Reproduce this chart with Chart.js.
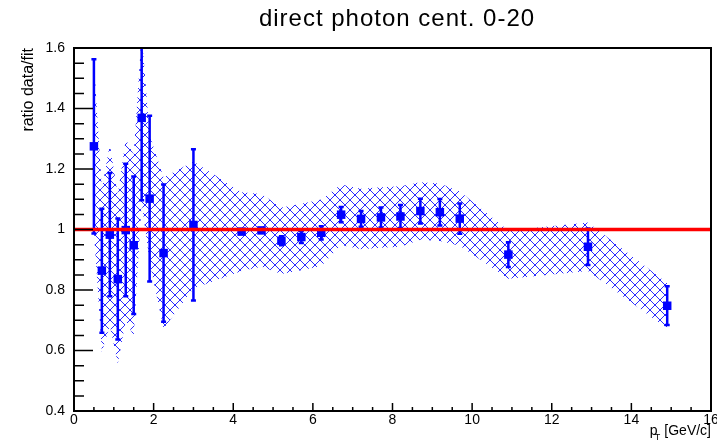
<!DOCTYPE html>
<html lang="en">
<head>
<meta charset="UTF-8">
<title>direct photon cent. 0-20</title>
<script src="https://cdn.jsdelivr.net/npm/chart.js"></script>
<style>
  html, body { margin: 0; padding: 0; background: #fff; }
  #wrap { width: 717px; height: 445px; }
</style>
</head>
<body>
<div id="wrap"><canvas id="myChart" width="717" height="445"></canvas></div>
<script>
// pT bin centres [GeV/c]
const ptX = [0.5, 0.7, 0.9, 1.1, 1.3, 1.5, 1.7, 1.9, 2.25, 3.0,
             4.21, 4.71, 5.21, 5.71, 6.21, 6.71, 7.21, 7.71, 8.2, 8.7, 9.19, 9.69,
             10.91, 12.91, 14.9];
// ratio data/fit
const ratio = [1.275, 0.864, 0.983, 0.836, 0.998, 0.948, 1.369, 1.102, 0.922, 1.015,
               0.993, 0.997, 0.963, 0.975, 0.989, 1.049, 1.035, 1.040, 1.043, 1.061, 1.057, 1.036,
               0.917, 0.943, 0.748];
// statistical errors (bars)
const statErr = [0.288, 0.205, 0.204, 0.200, 0.219, 0.227, 0.272, 0.274, 0.227, 0.250,
                 0.005, 0.005, 0.015, 0.020, 0.022, 0.025, 0.026, 0.033, 0.038, 0.041, 0.044, 0.050,
                 0.041, 0.060, 0.064];
// systematic errors (hatched band)
const sysErr = [0.28, 0.27, 0.30, 0.28, 0.30, 0.30, 0.28, 0.21, 0.25, 0.21,
                0.13, 0.12, 0.11, 0.11, 0.11, 0.10, 0.10, 0.10, 0.10, 0.095, 0.095, 0.09,
                0.08, 0.08, 0.075];

const xTicks = [0, 2, 4, 6, 8, 10, 12, 14, 16];
const yTicks = [0.4, 0.6, 0.8, 1.0, 1.2, 1.4, 1.6];
const refLevel = 1;

const FONT = '"Liberation Sans", Arial, Helvetica, sans-serif';
const BLUE = '#0000ff';

// hatch pattern like ROOT fill style (crossed diagonals)
function makeHatch() {
    const c = document.createElement('canvas');
    c.width = 10; c.height = 10;
    const g = c.getContext('2d');
    g.strokeStyle = '#2b2bff';
    g.lineWidth = 1;
    g.beginPath();
    g.moveTo(-1, -1); g.lineTo(11, 11);
    g.moveTo(11, -1); g.lineTo(-1, 11);
    g.stroke();
    return g.createPattern(c, 'repeat');
}

const points = ptX.map((x, i) => ({ x: x, y: ratio[i] }));
const bandUp = ptX.map((x, i) => ({ x: x, y: ratio[i] + sysErr[i] }));
const bandLo = ptX.map((x, i) => ({ x: x, y: ratio[i] - sysErr[i] }));
const refLine = [{ x: xTicks[0], y: refLevel }, { x: xTicks[xTicks.length - 1], y: refLevel }];

const POINTS_INDEX = 2;

// error bars drawn just before the markers
const errorBars = {
    id: 'errorBars',
    beforeDatasetDraw(chart, args) {
        if (args.index !== POINTS_INDEX) return;
        const { ctx, chartArea: a, scales: { x, y } } = chart;
        ctx.save();
        ctx.beginPath();
        ctx.rect(a.left, a.top, a.right - a.left, a.bottom - a.top);
        ctx.clip();
        ctx.strokeStyle = BLUE;
        ctx.lineWidth = 2.5;
        ctx.beginPath();
        ptX.forEach((v, i) => {
            const px = x.getPixelForValue(v);
            const top = y.getPixelForValue(ratio[i] + statErr[i]);
            const bot = y.getPixelForValue(ratio[i] - statErr[i]);
            ctx.moveTo(px, top); ctx.lineTo(px, bot);
            ctx.moveTo(px - 2.5, top); ctx.lineTo(px + 2.5, top);
            ctx.moveTo(px - 2.5, bot); ctx.lineTo(px + 2.5, bot);
        });
        ctx.stroke();
        ctx.restore();
    }
};

// ROOT style frame, inward ticks and titles
const rootFrame = {
    id: 'rootFrame',
    afterDraw(chart) {
        const { ctx, chartArea: a, scales: { x, y } } = chart;
        ctx.save();
        ctx.strokeStyle = '#000';
        ctx.lineWidth = 2;
        ctx.strokeRect(a.left, a.top, a.right - a.left, a.bottom - a.top);

        ctx.lineWidth = 1.5;
        ctx.beginPath();
        // x: major every 2, 4 subdivisions
        for (let k = 0; k <= 32; k++) {
            const px = x.getPixelForValue(k * 0.5);
            const len = k % 4 === 0 ? 8 : 4;
            ctx.moveTo(px, a.bottom); ctx.lineTo(px, a.bottom - len);
        }
        // y: major every 0.2, 4 subdivisions
        for (let k = 0; k <= 24; k++) {
            const py = y.getPixelForValue(0.4 + k * 0.05);
            const len = k % 4 === 0 ? 19 : 10;
            ctx.moveTo(a.left, py); ctx.lineTo(a.left + len, py);
        }
        ctx.stroke();

        ctx.fillStyle = '#000';
        // title
        ctx.save();
        ctx.font = '24px ' + FONT;
        ctx.letterSpacing = '1px';
        ctx.textAlign = 'center';
        ctx.textBaseline = 'alphabetic';
        ctx.fillText('direct photon cent. 0-20', 397, 26);
        ctx.restore();

        // y title, aligned to top of axis
        ctx.save();
        ctx.translate(33, a.top);
        ctx.rotate(-Math.PI / 2);
        ctx.font = '16px ' + FONT;
        ctx.textAlign = 'right';
        ctx.fillText('ratio data/fit', 0, 0);
        ctx.restore();

        // x title p_T [GeV/c], aligned to right of axis
        ctx.textAlign = 'left';
        ctx.font = '14px ' + FONT;
        const rest = ' [GeV/c]';
        const wRest = ctx.measureText(rest).width;
        const wP = ctx.measureText('p').width;
        const xRest = a.right - wRest;
        ctx.fillText(rest, xRest, 435);
        const xP = xRest - wP - 3;
        ctx.fillText('p', xP, 435);
        ctx.font = '9px ' + FONT;
        ctx.fillText('T', xP + 5, 440);
        ctx.restore();
    }
};

const ctx = document.getElementById('myChart').getContext('2d');
const myChart = new Chart(ctx, {
    type: 'line',
    data: {
        datasets: [
            {   // red reference line
                data: refLine,
                borderColor: '#ff0000',
                borderWidth: 3.5,
                pointRadius: 0,
                fill: false,
                order: 0
            },
            {   // placeholder to keep indices stable
                data: [],
                order: 5
            },
            {   // data points
                data: points,
                showLine: false,
                pointStyle: 'rect',
                pointRadius: 6,
                pointBackgroundColor: BLUE,
                pointBorderWidth: 0,
                pointBorderColor: BLUE,
                order: 1
            },
            {   // systematic band upper edge
                data: bandUp,
                borderColor: 'rgba(0,0,0,0)',
                borderWidth: 0,
                pointRadius: 0,
                backgroundColor: makeHatch(),
                fill: '+1',
                tension: 0,
                order: 3
            },
            {   // systematic band lower edge
                data: bandLo,
                borderColor: 'rgba(0,0,0,0)',
                borderWidth: 0,
                pointRadius: 0,
                fill: false,
                tension: 0,
                order: 4
            }
        ]
    },
    options: {
        responsive: false,
        animation: false,
        devicePixelRatio: 1,
        layout: { padding: { top: 48, right: 5, left: 0, bottom: 0 } },
        plugins: {
            legend: { display: false },
            tooltip: { enabled: false },
            title: { display: false }
        },
        scales: {
            x: {
                type: 'linear',
                min: xTicks[0],
                max: xTicks[xTicks.length - 1],
                afterBuildTicks: s => { s.ticks = xTicks.map(v => ({ value: v })); },
                afterFit: s => { s.height = 34; s.paddingLeft = 0; s.paddingRight = 0; },
                grid: { display: false, drawTicks: false },
                border: { display: false },
                ticks: {
                    color: '#000',
                    font: { family: FONT, size: 14 },
                    padding: 1,
                    maxRotation: 0,
                    autoSkip: false,
                    callback: v => String(v)
                }
            },
            y: {
                type: 'linear',
                min: yTicks[0],
                max: yTicks[yTicks.length - 1],
                afterBuildTicks: s => { s.ticks = yTicks.map(v => ({ value: v })); },
                afterFit: s => { s.width = 74; s.paddingTop = 0; s.paddingBottom = 0; },
                grid: { display: false, drawTicks: false },
                border: { display: false },
                ticks: {
                    color: '#000',
                    font: { family: FONT, size: 14 },
                    padding: 9,
                    autoSkip: false,
                    callback: v => String(+v.toFixed(2))
                }
            }
        }
    },
    plugins: [errorBars, rootFrame]
});
</script>
</body>
</html>
